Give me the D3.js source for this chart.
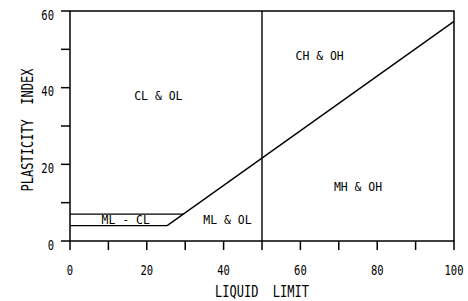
<!DOCTYPE html>
<html>
<head>
<meta charset="utf-8">
<script src="https://cdn.jsdelivr.net/npm/d3@7"></script>
<style>
  body { margin: 0; background: #fff; }
  text { font-family: "DejaVu Sans Mono", monospace; fill: #000; }
</style>
</head>
<body>
<div id="chart"></div>
<script>
// axis ticks
const xTicks = [0, 20, 40, 60, 80, 100];
const yTicks = [0, 20, 40, 60];
const xMinor = d3.range(0, 101, 10);
const yMinor = d3.range(0, 61, 10);

// boundary lines (liquid limit, plasticity index)
const aLine = [[25.3, 4], [100, 57.3]];
const lowBand = [[0, 4], [25.3, 4]];
const highBand = [[0, 7], [29.5, 7]];
const llLine = [[50, 0], [50, 60]];

// zone labels
const zoneNames = ["CL & OL", "CH & OH", "MH & OH", "ML & OL", "ML - CL"];
const zoneLL = [23, 65, 75, 41, 14.5];
const zonePI = [38, 48.5, 14.3, 5.5, 5.5];

const width = 468, height = 301;
const margin = {top: 11, right: 14, bottom: 60, left: 70};

const svg = d3.select("#chart").append("svg")
  .attr("width", width)
  .attr("height", height);

const x = d3.scaleLinear().domain([0, 100]).range([margin.left, width - margin.right]);
const y = d3.scaleLinear().domain([0, 60]).range([height - margin.bottom, margin.top]);

const line = d3.line().x(d => x(d[0])).y(d => y(d[1]));

// frame
svg.append("rect")
  .attr("x", x(0)).attr("y", y(60))
  .attr("width", x(100) - x(0)).attr("height", y(0) - y(60))
  .attr("fill", "none").attr("stroke", "#000").attr("stroke-width", 1.5);

// ticks
svg.append("g").selectAll("line").data(xMinor).join("line")
  .attr("x1", d => x(d)).attr("x2", d => x(d))
  .attr("y1", y(0)).attr("y2", y(0) + 9)
  .attr("stroke", "#000").attr("stroke-width", 1.5);

svg.append("g").selectAll("line").data(yMinor).join("line")
  .attr("x1", x(0) - 9).attr("x2", x(0))
  .attr("y1", d => y(d)).attr("y2", d => y(d))
  .attr("stroke", "#000").attr("stroke-width", 1.5);

svg.append("g").selectAll("text").data(xTicks).join("text")
  .attr("transform", d => `translate(${x(d)},${y(0) + 34}) scale(0.75,1)`)
  .attr("text-anchor", "middle")
  .style("font-size", "14px")
  .text(d => d);

svg.append("g").selectAll("text").data(yTicks).join("text")
  .attr("transform", d => `translate(${x(0) - 16},${y(d) + 8.5}) scale(0.75,1)`)
  .attr("text-anchor", "end")
  .style("font-size", "14px")
  .text(d => d);

// boundary lines
[aLine, lowBand, highBand, llLine].forEach(pts => {
  svg.append("path")
    .attr("d", line(pts))
    .attr("fill", "none")
    .attr("stroke", "#000")
    .attr("stroke-width", 1.4);
});

// zone labels
svg.append("g").selectAll("text").data(zoneNames).join("text")
  .attr("transform", (d, i) => `translate(${x(zoneLL[i])},${y(zonePI[i]) + 4.5}) scale(0.88,1)`)
  .attr("text-anchor", "middle")
  .style("font-size", "13px")
  .text(d => d);

// axis titles
svg.append("text")
  .attr("transform", `translate(${x(50)},${height - 4}) scale(0.8,1)`)
  .attr("text-anchor", "middle")
  .style("font-size", "15px")
  .attr("xml:space", "preserve")
  .text("LIQUID  LIMIT");

svg.append("text")
  .attr("transform", `translate(33,130) rotate(-90) scale(0.8,1)`)
  .attr("text-anchor", "middle")
  .style("font-size", "15px")
  .attr("xml:space", "preserve")
  .text("PLASTICITY  INDEX");
</script>
</body>
</html>
